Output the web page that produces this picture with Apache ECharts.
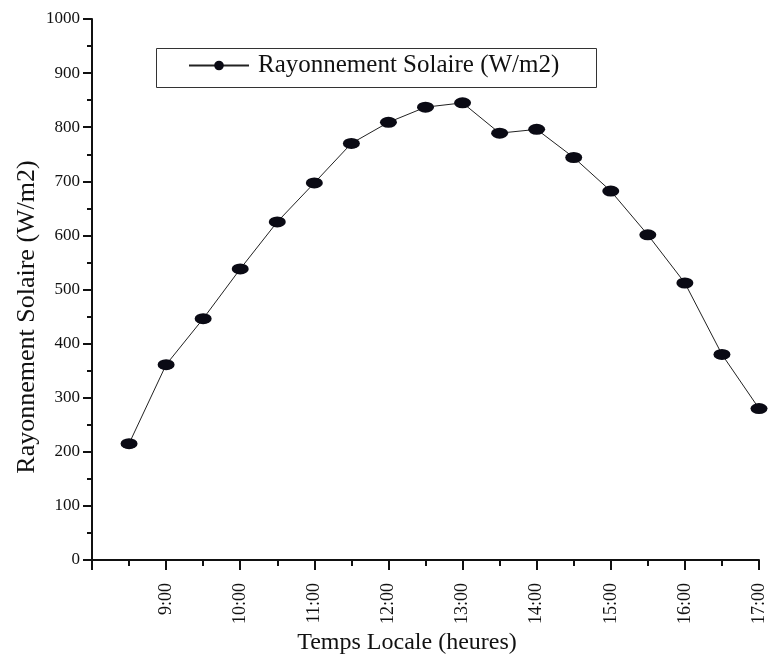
<!DOCTYPE html>
<html>
<head>
<meta charset="utf-8">
<script src="https://cdn.jsdelivr.net/npm/echarts@6/dist/echarts.min.js"></script>
<style>
  html, body { margin: 0; padding: 0; background: #fff; }
  #chart { width: 768px; height: 661px; }
</style>
</head>
<body>
<div id="chart"></div>
<script>
// Solar irradiance measured every half hour over the day
const hours = [8.5, 9, 9.5, 10, 10.5, 11, 11.5, 12, 12.5, 13, 13.5, 14, 14.5, 15, 15.5, 16, 16.5, 17];
const irradiance = [215, 361, 446, 538, 625, 697, 770, 809, 837, 845, 789, 796, 744, 682, 601, 512, 380, 280];
const seriesName = 'Rayonnement Solaire (W/m2)';
const xTitle = 'Temps Locale (heures)';
const yTitle = 'Rayonnement Solaire (W/m2)';

const serif = 'Liberation Serif';
const ink = '#111';

const chart = echarts.init(document.getElementById('chart'));
chart.setOption({
  animation: false,
  backgroundColor: '#fff',
  grid: { left: 92, right: 8, top: 19, bottom: 101, containLabel: false },
  legend: {
    data: [seriesName],
    left: 188,
    top: 53,
    padding: 0,
    itemWidth: 60,
    itemHeight: 12,
    textStyle: { fontFamily: serif, fontSize: 25, color: ink, padding: [0, 0, 0, 4] }
  },
  graphic: [
    // frame around the legend
    {
      type: 'rect',
      left: 154,
      top: 46,
      shape: { width: 440, height: 39 },
      style: { fill: 'none', stroke: '#333', lineWidth: 1 },
      z: 0
    },
    // axis titles
    {
      type: 'text',
      x: 407,
      y: 643,
      style: {
        text: xTitle,
        font: '24px "Liberation Serif"',
        fill: ink,
        textAlign: 'center',
        textVerticalAlign: 'middle'
      }
    },
    {
      type: 'text',
      x: 27,
      y: 317,
      rotation: Math.PI / 2,
      style: {
        text: yTitle,
        font: '26px "Liberation Serif"',
        fill: ink,
        textAlign: 'center',
        textVerticalAlign: 'middle'
      }
    }
  ],
  xAxis: {
    type: 'value',
    min: 8,
    max: 17,
    interval: 1,
    axisLine: { lineStyle: { color: ink, width: 2 } },
    axisTick: { show: true, inside: false, length: 10, lineStyle: { color: ink, width: 2 } },
    minorTick: { show: true, splitNumber: 2, length: 6, lineStyle: { color: ink, width: 2 } },
    splitLine: { show: false },
    axisLabel: {
      rotate: 90,
      margin: 23,
      fontFamily: serif,
      fontSize: 18,
      color: ink,
      formatter: v => (v === 8 ? '' : v + ':00')
    }
  },
  yAxis: {
    type: 'value',
    min: 0,
    max: 1000,
    interval: 100,
    axisLine: { show: true, lineStyle: { color: ink, width: 2 } },
    axisTick: { show: true, inside: false, length: 9, lineStyle: { color: ink, width: 2 } },
    minorTick: { show: true, splitNumber: 2, length: 5, lineStyle: { color: ink, width: 2 } },
    splitLine: { show: false },
    axisLabel: {
      margin: 12,
      fontFamily: serif,
      fontSize: 17,
      color: ink,
      formatter: v => String(v)
    }
  },
  series: [{
    name: seriesName,
    type: 'line',
    data: hours.map((h, i) => [h, irradiance[i]]),
    clip: false,
    symbol: 'circle',
    symbolSize: [17, 11],
    lineStyle: { color: '#222', width: 1 },
    itemStyle: { color: '#0a0a14', borderWidth: 0 }
  }]
});
</script>
</body>
</html>
